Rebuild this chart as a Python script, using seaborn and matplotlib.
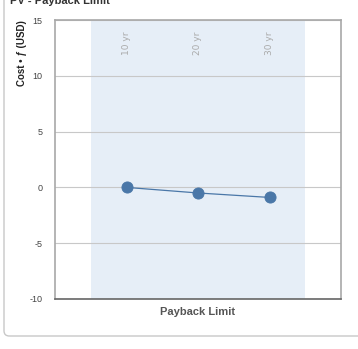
import matplotlib
matplotlib.use("Agg")
import matplotlib.pyplot as plt
import seaborn as sns
import pandas as pd
from matplotlib.patches import FancyBboxPatch

categories = ["10 yr", "20 yr", "30 yr"]
values = [0.0, -0.5, -0.9]
yticks = [-10, -5, 0, 5, 10, 15]

sns.set_style("white")
plt.rcParams['font.family'] = ['Liberation Sans Narrow', 'Liberation Sans', 'DejaVu Sans']

df = pd.DataFrame({"cat": categories, "val": values})

fig = plt.figure(figsize=(3.58, 3.49), dpi=100)
ax = fig.add_axes([55/358, 1-299/349, (341-55)/358, (299-20)/349])

# card border
card = FancyBboxPatch((4/358, 1-336/349), 1.2, 1.2, boxstyle="round,pad=0,rounding_size=0.015",
                      transform=fig.transFigure, facecolor="none", edgecolor="#c8c8c8", lw=1.0, zorder=0)
fig.patches.append(card)

ax.axvspan(-0.5, len(categories)-0.5, color="#e6eef7", zorder=0, lw=0)
for t in yticks:
    ax.axhline(t, color="#c8c8c8", lw=0.8, zorder=1)

sns.pointplot(data=df, x="cat", y="val", ax=ax, color="#4a77a8",
              markersize=8, linewidth=0.9, zorder=3)

ax.set_xlim(-1, 3)
ax.set_ylim(-10, 15)
ax.set_yticks(yticks)
ax.set_yticklabels([str(t) for t in yticks], fontsize=6.5, color="#444444")
ax.set_xticks([])
ax.tick_params(axis='y', length=0, pad=9)

for i, c in enumerate(categories):
    ax.text(i, 0.96, c, transform=ax.get_xaxis_transform(), rotation=90,
            ha='center', va='top', fontsize=6.5, color="#aaaaaa",
            family=['DejaVu Sans'])

for s in ['left', 'top', 'right']:
    ax.spines[s].set_color("#a8a8a8")
    ax.spines[s].set_linewidth(1.2)
ax.spines['bottom'].set_color("#666666")
ax.spines['bottom'].set_linewidth(1.2)

ax.set_xlabel("Payback Limit", fontsize=8, fontweight='bold', color="#555555", labelpad=6)
ax.set_ylabel("")
fig.text(22/358, 1-20/349, "Cost • ƒ (USD)", rotation=90, ha='center', va='top',
         fontsize=7, fontweight='bold', color="#222222")
fig.text(10/358, 0.998, "PV - Payback Limit", ha='left', va='center',
         fontsize=8, fontweight='bold', color="#333333")

fig.savefig("out.png", dpi=100)
